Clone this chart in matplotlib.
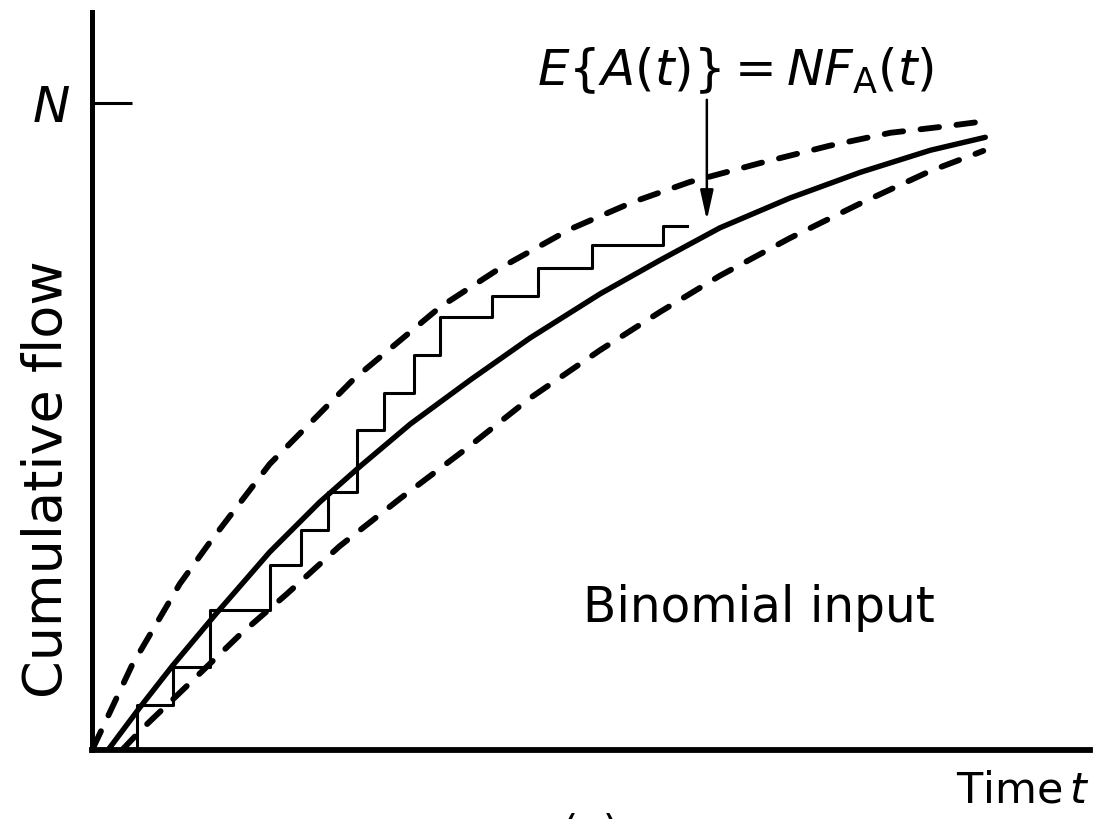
import matplotlib.pyplot as plt

# Cumulative flow A(t) as a fraction of N, time t in arbitrary units
mean_t = [0.16, 0.48, 0.81, 1.25, 1.78, 2.28, 2.69, 3.19, 3.79, 4.39, 5.09, 5.69,
          6.29, 6.99, 7.70, 8.40, 8.95]
mean_y = [0.0, 0.066, 0.131, 0.212, 0.306, 0.383, 0.439, 0.504, 0.572, 0.637, 0.705,
          0.757, 0.807, 0.853, 0.893, 0.927, 0.947]

# upper / lower envelopes of the binomial arrivals
upper_t = [0.01, 0.08, 0.40, 0.88, 1.18, 1.78, 2.62, 3.49, 4.09, 4.79, 5.42, 5.99,
           6.69, 7.39, 8.00, 8.50, 8.90]
upper_y = [0.003, 0.026, 0.131, 0.257, 0.321, 0.442, 0.573, 0.685, 0.745, 0.805, 0.847,
           0.878, 0.907, 0.934, 0.954, 0.963, 0.971]
lower_t = [0.30, 0.51, 0.95, 1.48, 1.95, 2.48, 3.09, 3.76, 4.39, 5.09, 5.69, 6.29,
           6.99, 7.70, 8.40, 8.93]
lower_y = [0.0, 0.034, 0.099, 0.178, 0.241, 0.315, 0.389, 0.467, 0.544, 0.618, 0.677,
           0.733, 0.791, 0.845, 0.895, 0.926]

# one sample path: arrival times and the count reached at each
step_t = [0.30, 0.45, 0.81, 1.18, 1.78, 2.09, 2.36, 2.65, 2.93, 3.23, 3.49, 4.01, 4.47, 5.01, 5.72]
step_y = [0.0, 0.070, 0.128, 0.216, 0.286, 0.340, 0.399, 0.495, 0.552, 0.611, 0.669, 0.702, 0.745, 0.781, 0.810]
step_end = 5.96

arrow_t = 6.16
arrow_from, arrow_to = 1.005, 0.819

fig = plt.figure(figsize=(10.97, 8.19), dpi=100)
ax = fig.add_axes([0.0839, 0.0842, 0.9098, 0.9011])
ax.set_xlim(0, 10)
ax.set_ylim(0, 1.1406)

for side in ("top", "right"):
    ax.spines[side].set_visible(False)
ax.spines["left"].set_linewidth(3.6)
ax.spines["bottom"].set_linewidth(4.2)

ax.set_xticks([])
ax.set_yticks([1.0])
ax.set_yticklabels([r"$N$"])
ax.tick_params(axis="y", direction="in", length=29, width=2.2, labelsize=36, pad=16)

ax.plot(mean_t, mean_y, color="k", lw=3.9, solid_capstyle="round", solid_joinstyle="round")
for tt, yy in ((upper_t, upper_y), (lower_t, lower_y)):
    ax.plot(tt, yy, color="k", lw=4.2, dashes=(3.2, 3.0), dash_capstyle="round")

ax.step(step_t + [step_end], step_y + [step_y[-1]], where="post", color="k", lw=2.2)

ax.annotate("", xy=(arrow_t, arrow_to), xytext=(arrow_t, arrow_from),
            arrowprops=dict(arrowstyle="-|>,head_length=0.9,head_width=0.2",
                            mutation_scale=20, lw=1.8, color="k", shrinkA=0, shrinkB=0),
            annotation_clip=False)

ax.text(4.46, 1.050, r"$E\{A(t)\}=NF_{\mathrm{A}}(t)$", fontsize=36, ha="left", va="center")
ax.text(-0.45, 0.419, "Cumulative flow", fontsize=39, rotation=90,
        ha="center", va="center", clip_on=False)
ax.text(4.92, 0.219, "Binomial input", fontsize=35, ha="left", va="center")
ax.text(10.0, -0.062, r"Time$\,t$", fontsize=31, ha="right", va="center", clip_on=False)
ax.text(4.99, -0.097, "(a)", fontsize=30, ha="center", va="top", clip_on=False)

fig.savefig("out.png", dpi=100)
